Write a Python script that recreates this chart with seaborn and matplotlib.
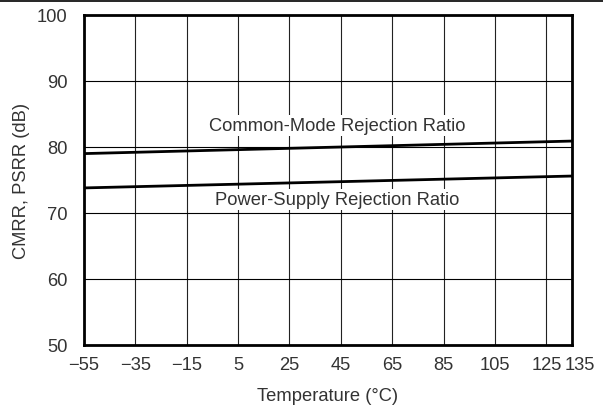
import numpy as np
import pandas as pd
import matplotlib
matplotlib.use('Agg')
import matplotlib.pyplot as plt
import seaborn as sns
from matplotlib.lines import Line2D
from matplotlib.transforms import ScaledTranslation

# Data
temperature = [-55, 135]
cmrr = [79.0, 80.9]
psrr = [73.8, 75.6]
x_ticks = [-55, -35, -15, 5, 25, 45, 65, 85, 105, 125, 135]
x_labels = ['\u221255', '\u221235', '\u221215', '5', '25', '45', '65', '85', '105', '125', '135']
y_ticks = [50, 60, 70, 80, 90, 100]

df = pd.DataFrame({
    'Temperature': temperature * 2,
    'Value': cmrr + psrr,
    'Series': ['CMRR'] * 2 + ['PSRR'] * 2,
})

sns.set_style('white')
plt.rcParams['font.family'] = ['Liberation Sans', 'DejaVu Sans']
text_color = '#333333'
fs = 13.2

fig = plt.figure(figsize=(6.03, 4.10), dpi=100)
ax = fig.add_axes([84 / 603, 1 - 346 / 410, (572 - 84) / 603, (346 - 16) / 410])

for x in x_ticks:
    ax.axvline(x, color='#222222', lw=0.8, zorder=1)
for y in y_ticks:
    ax.axhline(y, color='black', lw=0.8, zorder=1)

sns.lineplot(data=df, x='Temperature', y='Value', hue='Series',
             palette=['black', 'black'], linewidth=2.0, legend=False, ax=ax, zorder=3)

ax.text(43.5, 83.2, 'Common-Mode Rejection Ratio', ha='center', va='center', fontsize=fs,
        color=text_color, zorder=4,
        bbox=dict(facecolor='white', edgecolor='none', pad=1.5))
ax.text(43.5, 72.1, 'Power-Supply Rejection Ratio', ha='center', va='center', fontsize=fs,
        color=text_color, zorder=4,
        bbox=dict(facecolor='white', edgecolor='none', pad=1.5))

ax.set_xlim(-55, 135)
ax.set_ylim(50, 100)
ax.set_xticks(x_ticks)
ax.set_xticklabels(x_labels)
ax.set_yticks(y_ticks)
ax.tick_params(axis='y', length=0, labelsize=fs, labelcolor=text_color, pad=12)
ax.tick_params(axis='x', length=0, labelsize=fs, labelcolor=text_color, pad=8)

# nudge the last two labels apart like the reference
lbls = ax.get_xticklabels()
lbls[-1].set_transform(lbls[-1].get_transform() + ScaledTranslation(8 / 100, 0, fig.dpi_scale_trans))
lbls[-2].set_transform(lbls[-2].get_transform() + ScaledTranslation(0 / 100, 0, fig.dpi_scale_trans))

ax.set_xlabel('Temperature (\u00b0C)', fontsize=fs, color=text_color)
ax.set_ylabel('CMRR, PSRR (dB)', fontsize=fs, color=text_color)
ax.xaxis.set_label_coords(0.5, (346 - 397) / 330)
ax.xaxis.label.set_va('center')
ax.yaxis.set_label_coords((22 - 84) / 488, 0.5)
ax.yaxis.label.set_va('center')

for s in ax.spines.values():
    s.set_visible(True)
    s.set_color('black')
    s.set_linewidth(2.0)
    s.set_zorder(5)

fig.add_artist(Line2D([0, 1], [1 - 2 / 410, 1 - 2 / 410], color='black', lw=1.2,
                      transform=fig.transFigure))

fig.savefig('out.png', dpi=100)
